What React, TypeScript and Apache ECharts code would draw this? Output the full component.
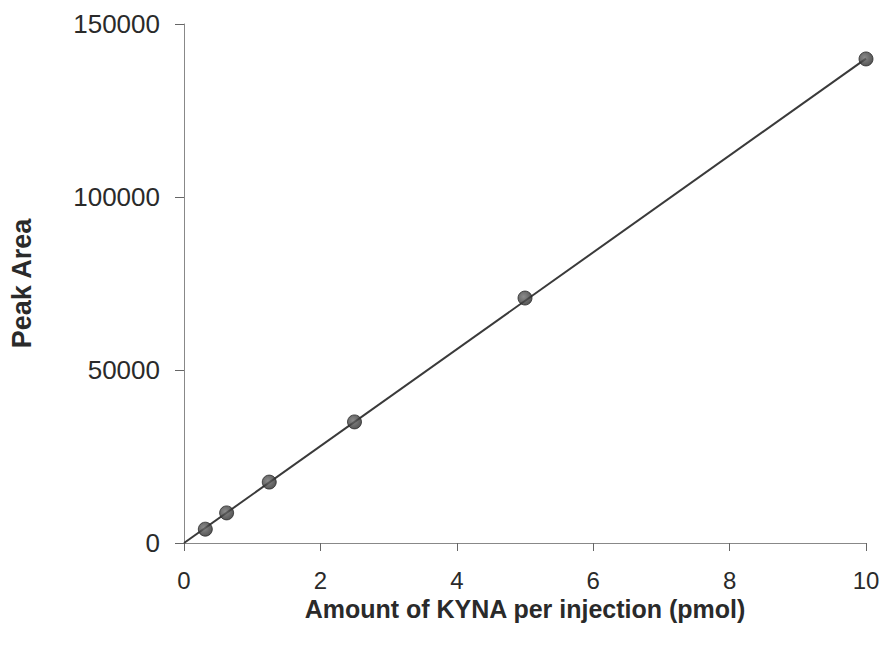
import React, { useEffect, useRef } from "react";
import * as echarts from "echarts";

const amounts = [0.3125, 0.625, 1.25, 2.5, 5, 10];
const peakAreas = [4000, 8700, 17600, 35000, 70800, 139900];
const fitX = [0, 10];
const fitY = [0, 140000];
const xTitle = "Amount of KYNA per injection (pmol)";
const yTitle = "Peak Area";

export default function App() {
  const ref = useRef<HTMLDivElement>(null);
  useEffect(() => {
    if (!ref.current) return;
    const chart = echarts.init(ref.current, undefined, { renderer: "svg" });
    const font = "'Liberation Sans', Arial, sans-serif";
    chart.setOption({
      animation: false,
      backgroundColor: "#ffffff",
      grid: { left: 183, right: 19, top: 24, bottom: 104, containLabel: false },
      xAxis: {
        type: "value",
        min: 0,
        max: 10,
        interval: 2,
        name: xTitle,
        nameLocation: "middle",
        nameGap: 48,
        nameTextStyle: { fontFamily: font, fontSize: 25, fontWeight: "bold", color: "#2a2a2a" },
        axisLine: { show: true, lineStyle: { color: "#888", width: 1 } },
        axisTick: { show: true, inside: false, length: 8, lineStyle: { color: "#666" } },
        axisLabel: {
          margin: 25,
          fontFamily: font,
          fontSize: 24,
          color: "#2a2a2a",
        },
        splitLine: { show: false },
      },
      yAxis: {
        type: "value",
        min: 0,
        max: 150000,
        interval: 50000,
        name: yTitle,
        nameLocation: "middle",
        nameGap: 149,
        nameRotate: 90,
        nameTextStyle: { fontFamily: font, fontSize: 27, fontWeight: "bold", color: "#2a2a2a" },
        axisLine: { show: true, lineStyle: { color: "#888", width: 1 } },
        axisTick: { show: true, inside: false, length: 9, lineStyle: { color: "#666" } },
        axisLabel: {
          margin: 24,
          fontFamily: font,
          fontSize: 26,
          color: "#2a2a2a",
          formatter: (v: number) => String(v),
        },
        splitLine: { show: false },
      },
      series: [
        {
          type: "line",
          data: fitX.map((x, i) => [x, fitY[i]]),
          symbol: "none",
          lineStyle: { color: "#3a3a3a", width: 2 },
          z: 2,
        },
        {
          type: "scatter",
          data: amounts.map((x, i) => [x, peakAreas[i]]),
          symbol: "circle",
          symbolSize: 14,
          itemStyle: {
            color: {
              type: "radial",
              x: 0.4,
              y: 0.4,
              r: 0.6,
              colorStops: [
                { offset: 0, color: "#6e6e6e" },
                { offset: 1, color: "#2e2e2e" },
              ],
            },
            borderColor: "#2a2a2a",
            borderWidth: 1,
          },
          z: 3,
        },
      ],
    });
    return () => chart.dispose();
  }, []);
  return (
    <div
      ref={ref}
      style={{ position: "absolute", left: 0, top: 0, width: 885, height: 647 }}
    />
  );
}
